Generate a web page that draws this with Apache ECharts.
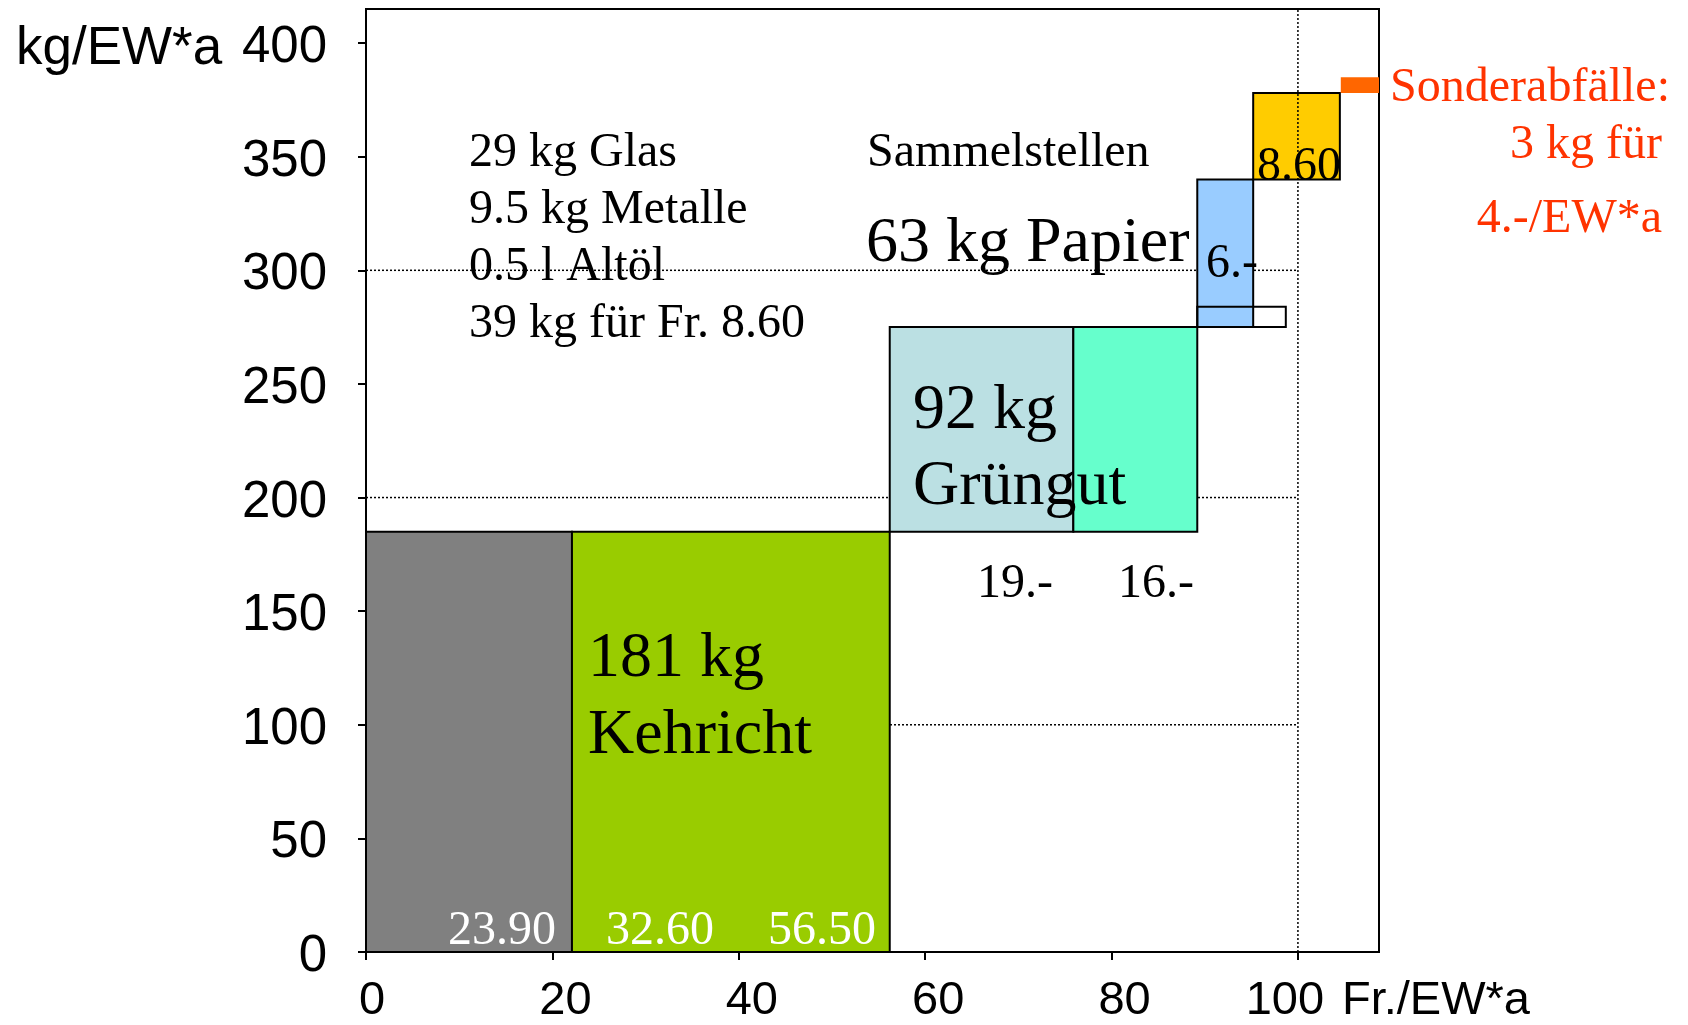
<!DOCTYPE html>
<html>
<head>
<meta charset="utf-8">
<script src="https://cdn.jsdelivr.net/npm/echarts@6/dist/echarts.min.js"></script>
<style>
html,body{margin:0;padding:0;background:#fff;}
#chart{width:1688px;height:1025px;}
</style>
</head>
<body>
<div id="chart"></div>
<script>
// ---- data ----
var blockNames   = ['Grundgebühr', 'Kehricht', 'Grüngut A', 'Grüngut B', 'Papier', 'Metalle', 'Sammelstellen', 'Sonderabfälle'];
var costStart    = [0,    22.1,  56.2,  75.9,  89.2,  89.2,  95.2,  104.6];   // Fr./EW*a
var costEnd      = [22.1, 56.2,  75.9,  89.2,  95.2,  98.7,  104.5, 108.7];
var massBottom   = [0,    0,     185,   185,   275,   275,   340,   378];     // kg/EW*a
var massTop      = [185,  185,   275,   275,   340,   284,   378,   385];
var gridYValues  = [100, 200, 300];
var refCost      = 100;
var xTicks       = [0, 20, 40, 60, 80, 100];
var yTicks       = [0, 50, 100, 150, 200, 250, 300, 350, 400];

// ---- styles ----
var fills   = ['#808080', '#99CC00', '#BBE0E3', '#66FFCC', '#99CCFF', 'none', '#FFCC00', '#FF6600'];
var strokes = ['#000', '#000', '#000', '#000', '#000', '#000', '#000', null];

var rectData = blockNames.map(function (n, i) {
  return [costStart[i], costEnd[i], massBottom[i], massTop[i]];
});

var gridSeries = gridYValues.map(function (y) {
  return {
    type: 'line', z: 1, silent: true, symbol: 'none', animation: false,
    data: [[0, y], [refCost, y]],
    lineStyle: { color: '#000', width: 1.5, type: [2, 2] }
  };
});

var chart = echarts.init(document.getElementById('chart'), null, { renderer: 'canvas' });

var sans = '"Liberation Sans", Arial, sans-serif';
var serif = '"Liberation Serif", "Times New Roman", serif';

function txt(text, x, y, size, color, align) {
  return {
    type: 'text', z: 100, x: x, y: y, silent: true,
    style: { text: text, fontFamily: serif, fontSize: size, fill: color || '#000',
             align: align || 'left', verticalAlign: 'middle' }
  };
}

var option = {
  backgroundColor: '#fff',
  animation: false,
  grid: { left: 366, right: 309, top: 9, bottom: 73, show: true, borderColor: '#000', borderWidth: 2, containLabel: false },
  xAxis: {
    type: 'value', min: 0, max: 108.7, interval: 20,
    axisLine: { show: true, lineStyle: { color: '#000', width: 2 } },
    axisTick: { show: true, length: 8, customValues: xTicks, lineStyle: { color: '#000', width: 2 } },
    axisLabel: { customValues: xTicks, fontFamily: sans, fontSize: 47, color: '#000', margin: 26,
      formatter: function (v) {
        if (xTicks.indexOf(v) < 0) return '';
        if (v === 0) return '{z|' + v + '}';
        return v === refCost ? '{l|' + v + '}' : '{r|' + v + '}';
      },
      rich: {
        z: { fontFamily: sans, fontSize: 47, color: '#000', padding: [0, 0, 0, 12] },
        r: { fontFamily: sans, fontSize: 47, color: '#000', padding: [0, 0, 0, 26] },
        l: { fontFamily: sans, fontSize: 47, color: '#000', padding: [0, 26, 0, 0] }
      }
    },
    splitLine: { show: false }
  },
  yAxis: {
    type: 'value', min: 0, max: 415, interval: 50,
    axisLine: { show: true, lineStyle: { color: '#000', width: 2 } },
    axisTick: { show: true, length: 8, customValues: yTicks, lineStyle: { color: '#000', width: 2 } },
    axisLabel: { customValues: yTicks, fontFamily: sans, fontSize: 51, color: '#000', margin: 39,
      verticalAlign: 'top', lineHeight: 10,
      formatter: function (v) { return yTicks.indexOf(v) >= 0 ? String(v) : ''; } },
    splitLine: { show: false }
  },
  series: gridSeries.concat([
    {
      type: 'custom', z: 2, silent: true, animation: false,
      data: rectData,
      encode: { x: [0, 1], y: [2, 3] },
      renderItem: function (params, api) {
        var i = params.dataIndex;
        var p0 = api.coord([api.value(0), api.value(2)]);
        var p1 = api.coord([api.value(1), api.value(3)]);
        var st = { fill: fills[i], lineWidth: 2 };
        if (strokes[i]) { st.stroke = strokes[i]; } else { st.lineWidth = 0; }
        return {
          type: 'rect',
          shape: { x: p0[0], y: p1[1], width: p1[0] - p0[0], height: p0[1] - p1[1] },
          style: st
        };
      }
    },
    {
      type: 'line', z: 3, silent: true, symbol: 'none', animation: false,
      data: [[refCost, 0], [refCost, 415]],
      lineStyle: { color: '#000', width: 1.5, type: [2, 2] }
    }
  ]),
  graphic: [
    { type: 'text', z: 100, x: 16, y: 49, silent: true,
      style: { text: 'kg/EW*a', fontFamily: sans, fontSize: 53, fill: '#000', align: 'left', verticalAlign: 'middle' } },
    { type: 'text', z: 100, x: 1530, y: 1001, silent: true,
      style: { text: 'Fr./EW*a', fontFamily: sans, fontSize: 47, fill: '#000', align: 'right', verticalAlign: 'middle' } },
    txt('29 kg Glas', 469, 153, 48),
    txt('9.5 kg Metalle', 469, 210.5, 48),
    txt('0.5 l Altöl', 469, 267.5, 48),
    txt('39 kg für Fr. 8.60', 469, 324.5, 48),
    txt('Sammelstellen', 867, 153, 48),
    txt('63 kg Papier', 866, 244.5, 64),
    txt('6.-', 1206, 264.5, 48),
    txt('8.60', 1257, 167, 48),
    txt('92 kg', 913, 411.5, 64),
    txt('Grüngut', 913, 487, 64),
    txt('19.-', 977, 584.5, 48),
    txt('16.-', 1118, 584.5, 48),
    txt('181 kg', 588, 659, 64),
    txt('Kehricht', 588, 736.5, 64),
    txt('23.90', 448, 931.5, 48, '#fff'),
    txt('32.60', 606, 931.5, 48, '#fff'),
    txt('56.50', 768, 931.5, 48, '#fff'),
    txt('Sonderabfälle:', 1670, 88.5, 48, '#FF3300', 'right'),
    txt('3 kg für', 1662, 145.5, 48, '#FF3300', 'right'),
    txt('4.-/EW*a', 1662, 219.5, 48, '#FF3300', 'right')
  ]
};

chart.setOption(option);
</script>
</body>
</html>
